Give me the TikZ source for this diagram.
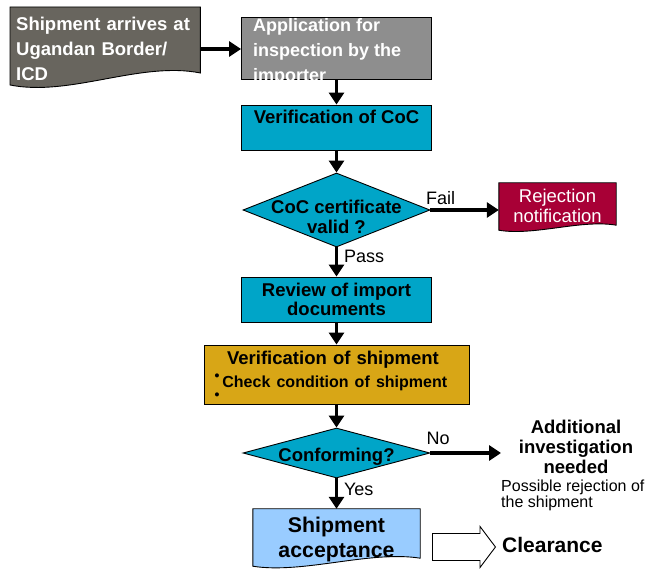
\documentclass[tikz,border=0pt]{standalone}
\usepackage{fontspec}
\setmainfont{Liberation Sans}
\usepackage{tikz}
\usetikzlibrary{arrows.meta, shapes.geometric, shapes.arrows, backgrounds}
\definecolor{arrivegray}{RGB}{104,101,94}
\definecolor{applygray}{RGB}{142,142,142}
\definecolor{cocteal}{RGB}{0,165,200}
\definecolor{shipgold}{RGB}{216,166,22}
\definecolor{rejectred}{RGB}{168,0,54}
\definecolor{acceptblue}{RGB}{153,204,255}
\newcommand\tinybullet{\raisebox{6.7pt}{\fontsize{14}{14}\selectfont\textbullet}}
\newcommand\diamondtext[2]{\smash{\makebox[0pt]{\raisebox{#1}{\parbox[t]{170pt}{\centering #2}}}}}

\begin{document}
\begin{tikzpicture}[x=1pt, y=-1pt,
	>={Triangle[length=12pt,width=15pt]},
	flow/.style={line width=3.2pt, black},
	box/.style={draw, line width=0.9pt, inner sep=0pt, align=center,
		font=\fontsize{18.5}{19}\selectfont\bfseries},
	docbox/.style={inner sep=0pt, align=center,
		font=\fontsize{18.5}{20}\selectfont\bfseries},
	decision/.style={diamond, draw, line width=0.9pt, fill=cocteal, inner sep=0pt,
		font=\fontsize{18.5}{20}\selectfont\bfseries},
	lbl/.style={font=\fontsize{18}{18}\selectfont, inner sep=2pt}]
	\useasboundingbox (0,0) rectangle (646,569);
	\node at (10,7) (arrive) [docbox, anchor=north west, text=white, align=left, inner xsep=6pt, inner ysep=10pt, text width=178pt, font=\fontsize{18.5}{25}\selectfont\bfseries] {Shipment arrives at\\Ugandan Border/\\ICD};
	\node at (336.5,48) (apply) [box, fill=applygray, minimum width=190pt, minimum height=62pt] {};
	\begin{scope}
		\clip (apply.north west) rectangle (apply.south east);
		\node at (253,18) (applytext) [anchor=north west, text=white, align=left, inner sep=0pt, font=\fontsize{18}{25}\selectfont\bfseries] {Application for\\inspection by the\\importer};
	\end{scope}
	\node at (336.5,127.5) (coc) [box, fill=cocteal, minimum width=190pt, minimum height=45pt, text depth=21pt] {Verification of CoC};
	\node at (336.5,210) (valid) [decision, minimum width=187pt, minimum height=74pt] {\diamondtext{-3.5pt}{CoC certificate\\valid ?}};
	\node at (557.5,205.8) (reject) [docbox, text=white, minimum width=117pt, minimum height=45.6pt, font=\fontsize{18.5}{20}\selectfont] {Rejection\\notification};
	\node at (336.5,299.5) (review) [box, fill=cocteal, minimum width=190pt, minimum height=45pt] {Review of import\\documents};
	\node at (336.5,374.5) (verify) [box, fill=shipgold, minimum width=265pt, minimum height=59pt, text width=250pt, align=left, text depth=34pt] {\makebox[243pt]{Verification of shipment}\\[5pt]\fontsize{16}{16}\selectfont\hspace*{3pt}\tinybullet\hspace{3pt}Check condition of shipment\\\hspace*{3pt}\tinybullet};
	\node at (336.5,453) (conform) [decision, minimum width=187pt, minimum height=50pt] {\diamondtext{-8.6pt}{Conforming?}};
	\node at (576,447) (invest) [align=center, inner sep=0pt, font=\fontsize{18.5}{20}\selectfont\bfseries] {Additional\\investigation\\needed};
	\node at (501,480) (possible) [anchor=north west, align=left, inner sep=0pt, font=\fontsize{16}{16}\selectfont] {Possible rejection of\\the shipment};
	\node at (336.5,539.5) (accept) [docbox, minimum width=167pt, minimum height=61pt, font=\fontsize{21.3}{25}\selectfont\bfseries] {Shipment\\acceptance};
	\node at (432,547) (toclear) [single arrow, draw, line width=0.9pt, fill=white, anchor=tail, minimum height=63pt, inner xsep=0pt, inner ysep=13pt, single arrow head extend=7pt, single arrow tip angle=106] {};
	\node at (502,545) (clear) [anchor=west, inner sep=0pt, font=\fontsize{21}{21}\selectfont\bfseries] {Clearance};
	% document shapes behind their texts
	\begin{scope}[on background layer]
		\draw[fill=arrivegray, line width=0.9pt] (arrive.north west) -- (arrive.north east) -- ([yshift=18pt]arrive.south east) .. controls +(-60,-12) and +(60,12) .. ([yshift=6pt]arrive.south west) -- cycle;
		\draw[fill=rejectred, line width=0.9pt] (reject.north west) -- (reject.north east) -- ([yshift=3.6pt]reject.south east) .. controls +(-35,-6) and +(35,6) .. ([yshift=-1.4pt]reject.south west) -- cycle;
		\draw[fill=acceptblue, line width=0.9pt] (accept.north west) -- (accept.north east) -- ([yshift=12pt]accept.south east) .. controls +(-50,-8) and +(50,8) .. ([yshift=4pt]accept.south west) -- cycle;
	\end{scope}
	\draw[->, flow] (arrive.east) -- (arrive.east -| apply.west);
	\draw[->, flow] (apply.south) -- (coc.north);
	\draw[->, flow] (coc.south) -- (valid.north);
	\draw[->, flow] (valid.east) -- node[lbl, above=2pt, pos=0.15] {Fail} (valid.east -| reject.west);
	\draw[->, flow] (valid.south) -- node[lbl, right=4pt, pos=0.32] {Pass} (review.north);
	\draw[->, flow] (review.south) -- (verify.north);
	\draw[->, flow] (verify.south) -- (conform.north);
	\draw[->, flow] (conform.east) -- node[lbl, above=5pt, pos=0.11] {No} (conform.east -| possible.west);
	\draw[->, flow] (conform.south) -- node[lbl, right=4pt, pos=0.35] {Yes} (accept.north);
\end{tikzpicture}
\end{document}
